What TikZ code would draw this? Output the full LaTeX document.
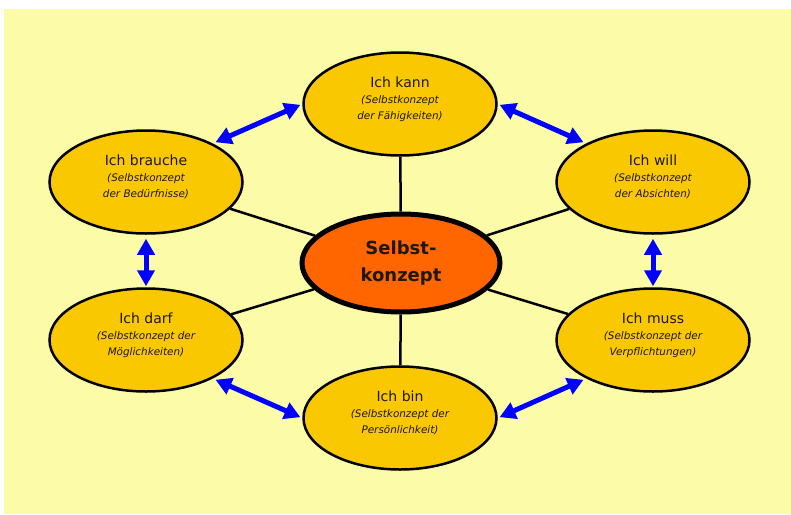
\documentclass[tikz,border=0pt]{standalone}
\usepackage{fontspec}
\setmainfont{DejaVu Sans}
\usetikzlibrary{shapes.geometric,arrows.meta}
\definecolor{bgyellow}{HTML}{FCFCA8}
\definecolor{goldfill}{HTML}{F9C800}
\definecolor{selforange}{HTML}{FF6600}
\definecolor{arrowblue}{HTML}{0000FF}
\definecolor{textdark}{HTML}{1F1800}
\newcommand{\klammer}[1]{{\fontsize{10.4}{16}\selectfont\itshape #1}}
\tikzset{
	ich/.style={ellipse,draw=black,line width=2.5pt,fill=goldfill,minimum width=193pt,minimum height=103pt,inner sep=0pt,align=center,text=textdark,font=\fontsize{14}{16}\selectfont,execute at end node={\rule[-12pt]{0pt}{0pt}}},
	selbst/.style={ellipse,draw=black,line width=5pt,fill=selforange,minimum width=198pt,minimum height=98pt,inner sep=0pt,align=center,text=textdark,font=\bfseries\fontsize{18}{27}\selectfont},
	spoke/.style={line width=2.5pt},
	bluearrow/.style={line width=5pt,arrowblue,{Triangle[length=16pt,width=17pt]}-{Triangle[length=16pt,width=17pt]}},
}
\begin{document}
\begin{tikzpicture}[x=1pt,y=-1pt]
	\useasboundingbox (0,0) rectangle (791,514);
	\fill[white] (0,0) rectangle (791,514);
	\fill[bgyellow] (4,9) rectangle (791,514);
	% the six ellipses round the centre
	\node[ich] (kann) at (400,104) {Ich kann\\\klammer{(Selbstkonzept}\\\klammer{der Fähigkeiten)}};
	\node[ich] (brauche) at (146,182) {Ich brauche\\\klammer{(Selbstkonzept}\\\klammer{der Bedürfnisse)}};
	\node[ich] (will) at (653,182) {Ich will\\\klammer{(Selbstkonzept}\\\klammer{der Absichten)}};
	\node[ich] (darf) at (146,340) {Ich darf\\\klammer{(Selbstkonzept der}\\\klammer{Möglichkeiten)}};
	\node[ich] (muss) at (653,340) {Ich muss\\\klammer{(Selbstkonzept der}\\\klammer{Verpflichtungen)}};
	\node[ich] (bin) at (400,418) {Ich bin\\\klammer{(Selbstkonzept der}\\\klammer{Persönlichkeit)}};
	\node[selbst] (selbst) at (401,263) {Selbst-\\konzept};
	% spokes
	\draw[spoke] (selbst) -- (kann);
	\draw[spoke] (selbst) -- (brauche);
	\draw[spoke] (selbst) -- (will);
	\draw[spoke] (selbst) -- (darf);
	\draw[spoke] (selbst) -- (muss);
	\draw[spoke] (selbst) -- (bin);
	% blue arrows
	\draw[bluearrow,shorten <=3pt,shorten >=2pt] (brauche.30) -- (kann.west);
	\draw[bluearrow,shorten <=2pt,shorten >=3pt] (kann.east) -- (will.150);
	\draw[bluearrow,shorten <=4pt,shorten >=1pt] (brauche.south) -- (darf.north);
	\draw[bluearrow,shorten <=4pt,shorten >=1pt] (will.south) -- (muss.north);
	\draw[bluearrow,shorten <=3pt,shorten >=2pt] (darf.-30) -- (bin.west);
	\draw[bluearrow,shorten <=2pt,shorten >=3pt] (bin.east) -- (muss.210);
\end{tikzpicture}
\end{document}
